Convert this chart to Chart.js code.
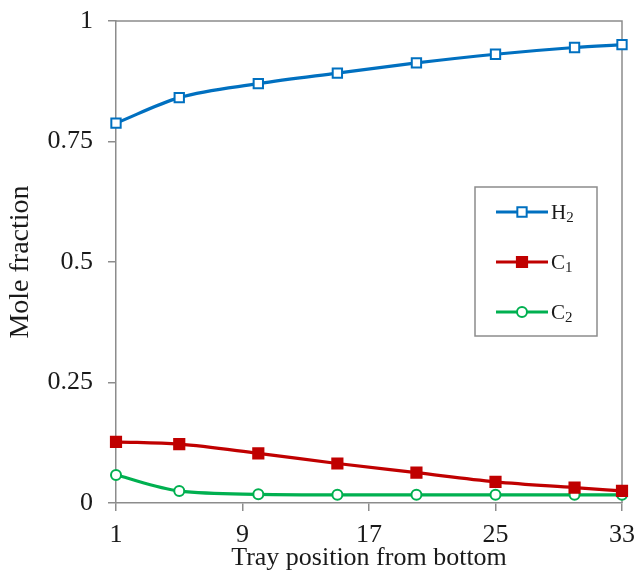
<!DOCTYPE html>
<html><head><meta charset="utf-8">
<script src="https://cdn.jsdelivr.net/npm/chart.js@4/dist/chart.umd.min.js"></script>
<style>html,body{margin:0;padding:0;background:#fff}</style>
</head><body>
<canvas id="c" width="637" height="574"></canvas>
<script>
const trays = [1, 5, 10, 15, 20, 25, 30, 33];
const h2Values = [0.788, 0.841, 0.870, 0.892, 0.913, 0.931, 0.945, 0.951];
const c1Values = [0.127, 0.122, 0.103, 0.082, 0.063, 0.044, 0.032, 0.025];
const c2Values = [0.058, 0.025, 0.018, 0.017, 0.017, 0.017, 0.017, 0.017];
const seriesNames = ['H₂', 'C₁', 'C₂'];
const xTicks = [1, 9, 17, 25, 33];
const yTicks = [0, 0.25, 0.5, 0.75, 1];
const yTickLabels = ['0', '0.25', '0.5', '0.75', '1'];

const BLUE = '#0070C0', RED = '#C00000', GREEN = '#00B050', GREY = '#8c8c8c';
const FONT = "'Liberation Serif', 'Times New Roman', serif";

function pts(vals) { return trays.map((t, i) => ({ x: t, y: vals[i] })); }

const frame = {
  id: 'frame',
  beforeDatasetsDraw(chart) {
    const a = chart.chartArea, ctx = chart.ctx;
    ctx.save();
    ctx.strokeStyle = GREY; ctx.lineWidth = 1.5;
    ctx.beginPath();
    ctx.moveTo(a.left, a.top); ctx.lineTo(a.right, a.top); ctx.lineTo(a.right, a.bottom);
    ctx.stroke();
    ctx.restore();
  }
};

const subMap = { '₀':'0','₁':'1','₂':'2','₃':'3' };
const legendBox = {
  id: 'legendBox',
  afterDatasetsDraw(chart) {
    const ctx = chart.ctx;
    const bx = 475, by = 187, bw = 122, bh = 149;
    ctx.save();
    ctx.fillStyle = '#fff';
    ctx.fillRect(bx, by, bw, bh);
    ctx.strokeStyle = GREY; ctx.lineWidth = 1.5;
    ctx.strokeRect(bx, by, bw, bh);
    chart.data.datasets.forEach((ds, i) => {
      const y = 212 + i * 50;
      ctx.strokeStyle = ds.borderColor; ctx.lineWidth = 3.2;
      ctx.beginPath(); ctx.moveTo(496, y); ctx.lineTo(548, y); ctx.stroke();
      ctx.fillStyle = ds.pointBackgroundColor; ctx.strokeStyle = ds.borderColor; ctx.lineWidth = ds.pointBorderWidth;
      ctx.beginPath();
      if (ds.pointStyle === 'circle') { ctx.arc(522, y, ds.pointRadius, 0, Math.PI * 2); }
      else { const s = ds.pointRadius * Math.SQRT1_2; ctx.rect(522 - s, y - s, 2 * s, 2 * s); }
      ctx.fill(); ctx.stroke();
      const label = ds.label;
      const base = label.replace(/[₀-₉]/g, '');
      const sub = label.replace(/[^₀-₉]/g, '').split('').map(c => subMap[c] || c).join('');
      ctx.fillStyle = '#1a1a1a';
      ctx.textBaseline = 'alphabetic'; ctx.textAlign = 'left';
      ctx.font = '21px ' + FONT;
      ctx.fillText(base, 551, y + 7);
      const w = ctx.measureText(base).width;
      ctx.font = '15px ' + FONT;
      ctx.fillText(sub, 551 + w, y + 10);
    });
    ctx.restore();
  }
};

function mkDs(label, vals, color, style, radius, bg) {
  return {
    label, data: pts(vals), borderColor: color, backgroundColor: color,
    borderWidth: 3.2, pointStyle: style, pointRadius: radius, pointHoverRadius: radius,
    pointBackgroundColor: bg, pointBorderColor: color, pointBorderWidth: 2,
    cubicInterpolationMode: 'monotone', clip: false
  };
}

new Chart(document.getElementById('c'), {
  type: 'line',
  data: {
    datasets: [
      mkDs(seriesNames[0], h2Values, BLUE, 'rect', 6.6, '#ffffff'),
      mkDs(seriesNames[1], c1Values, RED, 'rect', 7.2, RED),
      mkDs(seriesNames[2], c2Values, GREEN, 'circle', 5, '#ffffff')
    ]
  },
  options: {
    responsive: false, animation: false, devicePixelRatio: 1,
    layout: { padding: { top: 21, right: 15, left: 0, bottom: 0 } },
    plugins: { legend: { display: false }, tooltip: { enabled: false } },
    scales: {
      x: {
        type: 'linear', min: 1, max: 33,
        afterFit: s => { s.height = 71; s.paddingLeft = 0; s.paddingRight = 0; },
        afterBuildTicks: s => { s.ticks = xTicks.map(v => ({ value: v })); },
        grid: { drawOnChartArea: false, tickLength: 8, color: GREY, lineWidth: 1.5 },
        border: { color: GREY, width: 1.5 },
        ticks: { color: '#1a1a1a', font: { family: FONT, size: 26 }, padding: 9, maxRotation: 0, autoSkip: false },
        title: { display: true, text: 'Tray position from bottom', color: '#1a1a1a', font: { family: FONT, size: 26 }, padding: { top: 0, bottom: 0 } }
      },
      y: {
        min: 0, max: 1,
        afterFit: s => { s.width = 116; s.paddingTop = 0; s.paddingBottom = 0; },
        afterBuildTicks: s => { s.ticks = yTicks.map(v => ({ value: v })); },
        grid: { drawOnChartArea: false, tickLength: 8, color: GREY, lineWidth: 1.5 },
        border: { color: GREY, width: 1.5 },
        ticks: { color: '#1a1a1a', font: { family: FONT, size: 26 }, padding: 15,
          callback: v => { const i = yTicks.indexOf(v); return i >= 0 ? yTickLabels[i] : ''; } },
        title: { display: true, text: 'Mole fraction', color: '#1a1a1a', font: { family: FONT, size: 28 }, padding: { top: 4, bottom: 0 } }
      }
    }
  },
  plugins: [frame, legendBox]
});
</script>
</body></html>
